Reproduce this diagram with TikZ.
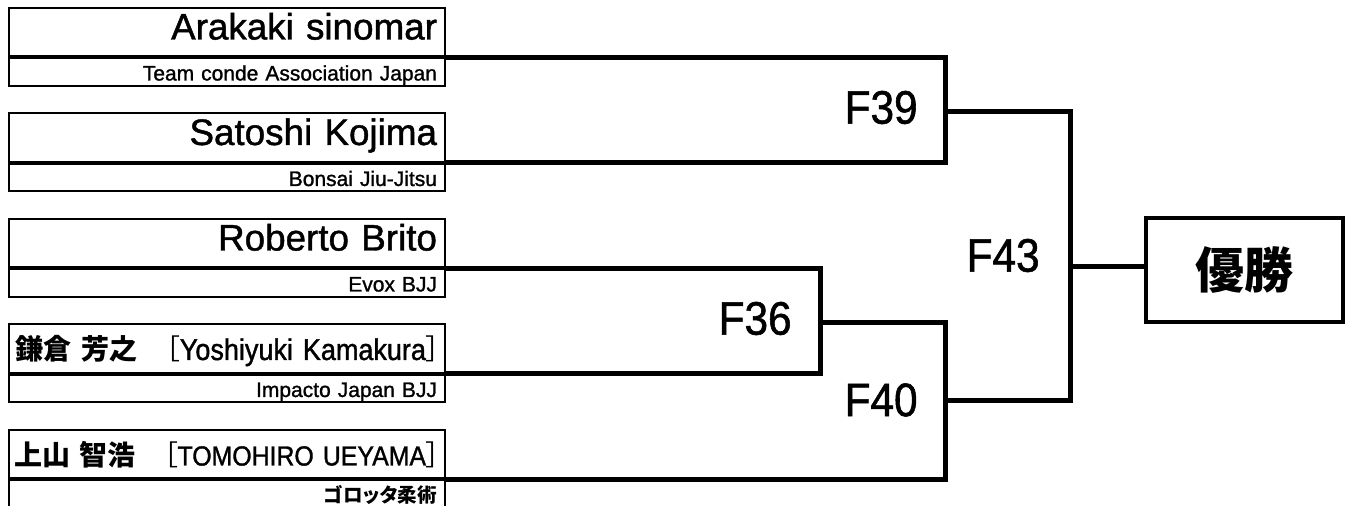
\documentclass[tikz,border=0pt]{standalone}
\usepackage{fontspec}
\setmainfont{Liberation Sans}[FakeBold=1.2]
\newfontfamily\narrowfont{Liberation Sans}[FakeStretch=0.9,FakeBold=1.2]
\newfontfamily\jp{Noto Sans CJK JP}[RawFeature=+palt]
\newcommand{\jpb}{\jp\bfseries}
\newcommand{\jn}{\jp\bfseries\fontsize{14}{14}\selectfont}
\usetikzlibrary{positioning}

\begin{document}
\begin{tikzpicture}[
  x=0.5pt, y=-0.5pt,
  node distance=0pt,
  player/.style={draw,line width=1pt,anchor=north west,minimum height=24.25pt,text width=210pt,inner xsep=4pt,inner ysep=0pt,text height=15.75pt,text depth=8.5pt,align=right,font=\fontsize{18.4}{18.4}\selectfont},
  jpname/.style={player,text width=213pt,inner xsep=2.5pt,text height=17.75pt,text depth=6.5pt,font=\narrowfont\fontsize{15}{15}\selectfont},
  team/.style={draw,line width=1pt,minimum height=13.75pt,text width=210pt,inner xsep=4pt,inner ysep=0pt,text height=11pt,text depth=2.75pt,align=right,font=\fontsize{10.5}{10.5}\selectfont},
  match/.style={anchor=east,inner sep=0pt,font=\narrowfont\fontsize{23.5}{23.5}\selectfont},
  bracket/.style={line width=2.5pt},
  champ/.style={draw,line width=2pt,minimum width=98.5pt,minimum height=52pt,inner sep=0pt,font=\jpb\fontsize{24.5}{24.5}\selectfont},
]
\useasboundingbox (0,0) rectangle (1346,506);

\node[player] (p1) at (8,7) {Arakaki sinomar\hspace*{14pt}};
\node[team,below=of p1] (t1) {Team conde Association Japan};
\node[player] (p2) at (8,112.5) {Satoshi Kojima};
\node[team,below=of p2] (t2) {Bonsai Jiu-Jitsu};
\node[player] (p3) at (8,218) {Roberto Brito};
\node[team,below=of p3] (t3) {Evox BJJ};
\node[jpname] (p4) at (8,323.5) {{\jn 鎌倉 芳之}{\jn\mdseries 　［}Yoshiyuki Kamakura{\jn\mdseries ］}};
\node[team,below=of p4] (t4) {Impacto Japan BJJ};
\node[jpname,font=\narrowfont\fontsize{13.8}{13.8}\selectfont] (p5) at (8,429) {{\jn 上山 智浩}{\jn\mdseries 　［}TOMOHIRO UEYAMA{\jn\mdseries ］}};
\node[team,below=of p5,font=\jpb\fontsize{9.8}{9.8}\selectfont] (t5) {ゴロッタ柔術};

\node[champ] (win) at (1244.5,270) {優勝};

\coordinate (m39) at (945,112);
\coordinate (m36) at (820,323);
\coordinate (m40) at (945,401);
\coordinate (m43) at (1070,267);

\draw[bracket] (p1.south east) -| (m39) |- (p2.south east);
\draw[bracket] (p3.south east) -| (m36) |- (p4.south east);
\draw[bracket] (m36) -| (m40) |- (p5.south east);
\draw[bracket] (m39) -| (m43) |- (m40);
\draw[bracket] (m43) -- (m43 -| win.west);

\node[match] (f39) at (918,107.5) {F39};
\node[match] (f36) at (792,318.5) {F36};
\node[match] (f40) at (918,400) {F40};
\node[match] (f43) at (1040,255.5) {F43};
\end{tikzpicture}
\end{document}
